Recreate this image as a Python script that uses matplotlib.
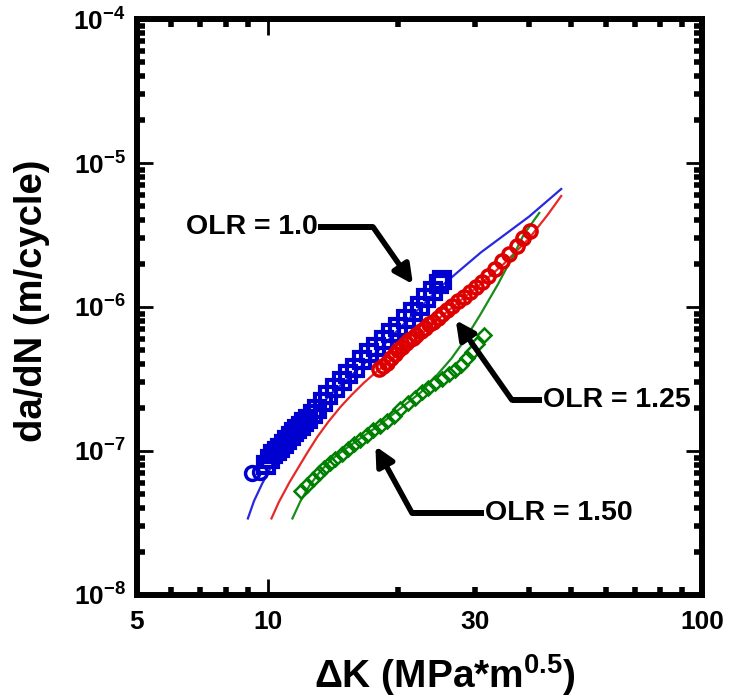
import matplotlib
matplotlib.use('Agg')
import matplotlib.pyplot as plt
from matplotlib.ticker import FixedLocator, FixedFormatter, NullFormatter, LogFormatterMathtext, LogLocator

plt.rcParams['font.family'] = ['Liberation Sans', 'DejaVu Sans']
plt.rcParams['font.weight'] = 'bold'
plt.rcParams['mathtext.fontset'] = 'custom'
plt.rcParams['mathtext.rm'] = 'Liberation Sans:bold'
plt.rcParams['mathtext.it'] = 'Liberation Sans:bold:italic'
plt.rcParams['mathtext.bf'] = 'Liberation Sans:bold'
plt.rcParams['mathtext.default'] = 'regular'

# ---------------- data ----------------
# OLR = 1.0 : blue squares (first two points are circles)
blue_circ_dk = [9.2, 9.6]
blue_circ_rate = [7.0e-8, 7.1e-8]
blue_dk = [9.9, 10.1, 10.3, 10.5, 10.7, 10.9, 11.1, 11.3, 11.5, 11.7, 11.9, 12.1,
           12.4, 12.7, 13.0, 13.4, 13.8, 14.3, 14.8, 15.3, 15.9, 16.5, 17.1, 17.8,
           18.5, 19.2, 20.0, 20.8, 21.6, 22.4, 23.2, 24.0, 24.8, 25.2]
blue_rate = [8.0e-8, 8.8e-8, 9.5e-8, 1.0e-7, 1.05e-7, 1.12e-7, 1.2e-7, 1.27e-7,
             1.35e-7, 1.42e-7, 1.5e-7, 1.58e-7, 1.68e-7, 1.8e-7, 1.95e-7, 2.2e-7,
             2.45e-7, 2.75e-7, 3.05e-7, 3.4e-7, 3.8e-7, 4.3e-7, 4.8e-7, 5.3e-7,
             5.9e-7, 6.6e-7, 7.3e-7, 8.2e-7, 9.2e-7, 1.02e-6, 1.15e-6, 1.3e-6,
             1.45e-6, 1.55e-6]
blue_fit_dk = [9.0, 9.3, 9.7, 10.3, 11.3, 12.5, 14.0, 16.0, 18.0, 20.0, 22.5, 25.0,
               28.0, 31.0, 35.0, 40.0, 47.4]
blue_fit_rate = [3.4e-8, 4.5e-8, 5.9e-8, 8.3e-8, 1.2e-7, 1.72e-7, 2.5e-7, 3.6e-7,
                 5.0e-7, 7.0e-7, 1.0e-6, 1.38e-6, 1.85e-6, 2.4e-6, 3.15e-6, 4.25e-6,
                 6.6e-6]

# OLR = 1.25 : red circles
red_dk = [18.0, 18.4, 18.8, 19.2, 19.6, 20.0, 20.4, 20.8, 21.2, 21.6, 22.0, 22.5,
          23.0, 23.5, 24.0, 24.6, 25.2, 25.9, 26.6, 27.4, 28.3, 29.2, 30.1, 31.1,
          32.2, 33.4, 34.7, 36.0, 37.4, 38.8, 40.2]
red_rate = [3.7e-7, 3.9e-7, 4.1e-7, 4.4e-7, 4.7e-7, 5.0e-7, 5.3e-7, 5.6e-7, 5.9e-7,
            6.1e-7, 6.4e-7, 6.8e-7, 7.2e-7, 7.6e-7, 7.9e-7, 8.4e-7, 8.9e-7, 9.5e-7,
            1.02e-6, 1.1e-6, 1.18e-6, 1.28e-6, 1.38e-6, 1.5e-6, 1.65e-6, 1.85e-6,
            2.1e-6, 2.35e-6, 2.65e-6, 3.0e-6, 3.35e-6]
red_fit_dk = [10.2, 10.6, 11.2, 11.8, 12.3, 13.0, 13.8, 14.7, 15.6, 16.6, 17.6, 18.8,
              20.0, 22.5, 25.0, 28.0, 31.0, 35.0, 40.0, 44.2, 47.4]
red_fit_rate = [3.4e-8, 4.4e-8, 6.0e-8, 7.8e-8, 9.6e-8, 1.25e-7, 1.6e-7, 2.02e-7,
                2.45e-7, 2.95e-7, 3.45e-7, 4.05e-7, 4.7e-7, 6.4e-7, 8.5e-7, 1.13e-6,
                1.45e-6, 2.0e-6, 3.0e-6, 4.4e-6, 5.9e-6]

# OLR = 1.50 : green diamonds
green_dk = [11.9, 12.3, 12.7, 13.1, 13.5, 13.9, 14.3, 14.8, 15.3, 15.8, 16.3, 16.9,
            17.5, 18.1, 18.8, 19.5, 20.2, 21.0, 21.8, 22.6, 23.4, 24.3, 25.2, 26.1,
            27.0, 27.9, 28.8, 29.6, 30.4, 31.5]
green_rate = [5.3e-8, 5.8e-8, 6.4e-8, 7.0e-8, 7.6e-8, 8.2e-8, 8.8e-8, 9.5e-8,
              1.03e-7, 1.12e-7, 1.2e-7, 1.3e-7, 1.4e-7, 1.5e-7, 1.62e-7, 1.76e-7,
              1.95e-7, 2.15e-7, 2.35e-7, 2.55e-7, 2.75e-7, 2.95e-7, 3.15e-7, 3.4e-7,
              3.65e-7, 3.95e-7, 4.4e-7, 4.9e-7, 5.5e-7, 6.4e-7]
green_fit_dk = [11.4, 11.9, 12.5, 13.2, 14.0, 15.0, 16.5, 18.0, 20.0, 22.5, 24.6,
                26.5, 28.3, 30.9, 33.9, 36.9, 38.9, 42.2]
green_fit_rate = [3.4e-8, 4.5e-8, 5.8e-8, 7.2e-8, 8.7e-8, 1.02e-7, 1.25e-7, 1.5e-7,
                  1.93e-7, 2.55e-7, 3.4e-7, 4.4e-7, 5.8e-7, 8.9e-7, 1.44e-6, 2.33e-6,
                  3.2e-6, 4.5e-6]

x_major = [5, 10, 100]
x_major_labels = ['5', '10', '100']
x_minor = [6, 7, 8, 9, 20, 30, 40, 50, 60, 70, 80, 90]
x_minor_labels = ['', '', '', '', '', '30', '', '', '', '', '', '']

labels = ['OLR = 1.0', 'OLR = 1.25', 'OLR = 1.50']

# ---------------- figure ----------------
fig = plt.figure(figsize=(7.4, 6.98), dpi=100)
ax = fig.add_axes([137 / 740, 1 - 595 / 698, 565 / 740, 576 / 698])
ax.set_xscale('log')
ax.set_yscale('log')
ax.set_xlim(5, 100)
ax.set_ylim(1e-8, 1e-4)

c_blue, c_red, c_green = '#0000D0', '#DD0000', '#008000'

ax.plot(blue_fit_dk, blue_fit_rate, color='#2828E0', lw=1.6, zorder=2)
ax.plot(red_fit_dk, red_fit_rate, color='#E82828', lw=1.6, zorder=2)
ax.plot(green_fit_dk, green_fit_rate, color='#1A8C1A', lw=1.6, zorder=2)

ax.plot(blue_dk, blue_rate, ls='none', marker='s', ms=11.5, mfc='none', mec=c_blue,
        mew=3.0, zorder=3)
ax.plot(blue_circ_dk, blue_circ_rate, ls='none', marker='o', ms=10, mfc='none',
        mec=c_blue, mew=2.5, zorder=3)
ax.plot(red_dk, red_rate, ls='none', marker='o', ms=9.5, mfc='none', mec=c_red,
        mew=2.5, zorder=3)
ax.plot(green_dk, green_rate, ls='none', marker='D', ms=7.5, mfc='none', mec=c_green,
        mew=1.8, zorder=3)

# ---------------- annotations ----------------
arrow_kw = dict(arrowstyle='-|>', lw=4.0, color='black', mutation_scale=28,
                shrinkA=0, shrinkB=0)
ann_fs = 20.5

# OLR = 1.0
ax.plot([13.06, 17.47], [3.6e-6, 3.6e-6], color='black', lw=4.3,
        solid_capstyle='butt', zorder=4)
ax.annotate('', xy=(21.6, 1.44e-6), xytext=(17.47, 3.6e-6), arrowprops=arrow_kw,
            zorder=4)
ax.text(13.06, 3.6e-6, labels[0], fontsize=ann_fs, ha='right', va='center')

# OLR = 1.25
ax.plot([36.5, 42.8], [2.26e-7, 2.26e-7], color='black', lw=4.3,
        solid_capstyle='butt', zorder=4)
ax.annotate('', xy=(27.1, 8.1e-7), xytext=(36.5, 2.26e-7), arrowprops=arrow_kw,
            zorder=4)
ax.text(43.0, 2.26e-7, labels[1], fontsize=ann_fs, ha='left', va='center')

# OLR = 1.50
ax.plot([21.5, 31.4], [3.7e-8, 3.7e-8], color='black', lw=4.3,
        solid_capstyle='butt', zorder=4)
ax.annotate('', xy=(17.7, 1.08e-7), xytext=(21.5, 3.7e-8), arrowprops=arrow_kw,
            zorder=4)
ax.text(31.6, 3.7e-8, labels[2], fontsize=ann_fs, ha='left', va='center')

# ---------------- axes styling ----------------
for sp in ax.spines.values():
    sp.set_linewidth(4.3)

ax.xaxis.set_major_locator(FixedLocator(x_major))
ax.xaxis.set_major_formatter(FixedFormatter(x_major_labels))
ax.xaxis.set_minor_locator(FixedLocator(x_minor))
ax.xaxis.set_minor_formatter(FixedFormatter(x_minor_labels))

ax.yaxis.set_major_locator(LogLocator(base=10, numticks=10))
ax.yaxis.set_major_formatter(LogFormatterMathtext())
ax.yaxis.set_minor_locator(LogLocator(base=10, subs=[2, 3, 4, 5, 6, 7, 8, 9], numticks=10))
ax.yaxis.set_minor_formatter(NullFormatter())

ax.tick_params(which='both', direction='in', top=True, right=True, labelsize=19)
ax.tick_params(which='major', length=11.5, width=2.0)
ax.tick_params(which='minor', length=6, width=4.0)
ax.tick_params(axis='x', which='both', pad=11)
ax.tick_params(axis='y', which='both', pad=8)

ax.set_xlabel('ΔK (MPa*m$^{0.5}$)', fontsize=28, fontweight='bold')
ax.set_ylabel('da/dN (m/cycle)', fontsize=27.5, fontweight='bold')
ax.xaxis.label.set_va('center')
ax.yaxis.label.set_va('center')
ax.xaxis.set_label_coords(0.545, -0.139)
ax.yaxis.set_label_coords(-0.186, 0.51)

fig.savefig('out.png', dpi=100)
